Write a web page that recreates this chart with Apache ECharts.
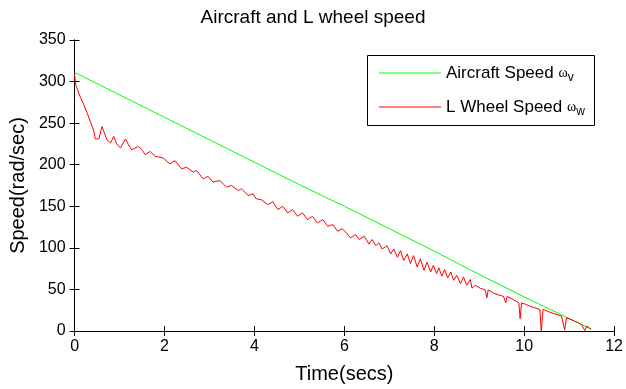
<!DOCTYPE html>
<html>
<head>
<meta charset="utf-8">
<script src="https://cdn.jsdelivr.net/npm/echarts@6/dist/echarts.min.js"></script>
<style>
  html, body { margin: 0; padding: 0; background: #fff; }
  #chart { width: 626px; height: 389px; }
</style>
</head>
<body>
<div id="chart"></div>
<script>
// Axis ticks
const xTicks = [0, 2, 4, 6, 8, 10, 12];
const yTicks = [0, 50, 100, 150, 200, 250, 300, 350];

// Aircraft speed [time (s), speed (rad/s)]
const aircraftSpeed = [
  [0, 311], [1, 284], [2, 257], [3, 230], [4, 203], [5, 176], [6, 150],
  [7, 123], [8, 96], [9, 68], [10, 41], [11, 15], [11.49, 2]
];

// Left wheel speed [time (s), speed (rad/s)]
const wheelSpeed = [
  [0, 309], [0.02, 297], [0.06, 291], [0.13, 281], [0.2, 273], [0.28, 262],
  [0.35, 252], [0.43, 240], [0.46, 231], [0.54, 231], [0.61, 246], [0.65, 244],
  [0.72, 230], [0.8, 226], [0.87, 234], [0.94, 225], [1.02, 220], [1.13, 231],
  [1.2, 224], [1.27, 218], [1.42, 222], [1.5, 218], [1.57, 212], [1.68, 216],
  [1.79, 210], [1.9, 209], [1.97, 208], [2.12, 201], [2.23, 205], [2.38, 195],
  [2.49, 197], [2.64, 191], [2.71, 193], [2.86, 183], [2.97, 186], [3.08, 179],
  [3.23, 181], [3.38, 173], [3.49, 175], [3.64, 169], [3.71, 171], [3.86, 163],
  [3.97, 165], [4.04, 159], [4.15, 158], [4.3, 152], [4.41, 155.5], [4.52, 146],
  [4.63, 150], [4.74, 142], [4.85, 146], [4.96, 138], [5.07, 142], [5.18, 134],
  [5.29, 138], [5.4, 130], [5.52, 134], [5.63, 126], [5.74, 128], [5.85, 120],
  [5.95, 123], [6.03, 119], [6.14, 112], [6.25, 116], [6.33, 110], [6.44, 114],
  [6.55, 104.5], [6.62, 110], [6.7, 102.5], [6.77, 106], [6.84, 98.6], [6.95, 102.5],
  [7.03, 92.7], [7.1, 98.6], [7.18, 88.7], [7.25, 96.6], [7.32, 84.8], [7.4, 92.7],
  [7.47, 81], [7.54, 90.7], [7.62, 77], [7.69, 86.8], [7.77, 73], [7.84, 82.8],
  [7.92, 71], [7.98, 79], [8.05, 69], [8.1, 76], [8.17, 66], [8.23, 74],
  [8.3, 64], [8.37, 71], [8.43, 61], [8.5, 67], [8.58, 57], [8.65, 65],
  [8.72, 55], [8.8, 62], [8.84, 51.5], [8.91, 55], [9.02, 51.5], [9.13, 49.5],
  [9.17, 40], [9.2, 49.5], [9.31, 45.6], [9.42, 43.6], [9.54, 41.6], [9.59, 34],
  [9.62, 41.6], [9.76, 37.7], [9.88, 34], [9.91, 15], [9.94, 33.8], [10.05, 31.8],
  [10.13, 29.8], [10.35, 25.9], [10.38, 0], [10.42, 25.9], [10.6, 22], [10.83, 18],
  [10.9, 1], [10.94, 16], [11.12, 12], [11.27, 8], [11.35, 0.5], [11.39, 6],
  [11.49, 2]
];

const FONT = '"Liberation Sans", Arial, sans-serif';

const chart = echarts.init(document.getElementById('chart'), null, { renderer: 'canvas' });

const axisLine = { show: true, lineStyle: { color: '#000', width: 1 } };
const inTick = { show: true, inside: true, length: 5, lineStyle: { color: '#000', width: 1 } };

chart.setOption({
  backgroundColor: '#fff',
  animation: false,
  title: {
    text: 'Aircraft and L wheel speed',
    left: 'center',
    top: 8,
    padding: 0,
    textStyle: { fontFamily: FONT, fontSize: 19, fontWeight: 'normal', color: '#000' }
  },
  grid: { left: 74, right: 10, top: 40, bottom: 52, containLabel: false },
  legend: {
    orient: 'vertical',
    left: 379,
    top: 62,
    padding: 0,
    itemWidth: 62,
    itemHeight: 1,
    itemGap: 12,
    icon: 'rect',
    formatter: name => name === 'Aircraft Speed'
      ? name + ' {w|ω}{s|v}'
      : name + ' {w|ω}{s|w}',
    textStyle: {
      fontFamily: FONT, fontSize: 17, color: '#000', lineHeight: 22,
      rich: {
        w: { fontFamily: '"Liberation Serif", serif', fontSize: 14, color: '#000' },
        s: { fontFamily: FONT, fontSize: 12, color: '#000', verticalAlign: 'bottom', lineHeight: 22 }
      }
    },
    data: ['Aircraft Speed', 'L Wheel Speed']
  },
  graphic: [{
    type: 'rect',
    shape: { x: 367.5, y: 55.5, width: 227, height: 70 },
    style: { fill: 'none', stroke: '#000', lineWidth: 1 },
    z: 100
  }],
  xAxis: [{
    type: 'value',
    min: xTicks[0],
    max: xTicks[xTicks.length - 1],
    interval: 2,
    position: 'bottom',
    name: 'Time(secs)',
    nameLocation: 'middle',
    nameGap: 33,
    nameTextStyle: { fontFamily: FONT, fontSize: 20, color: '#000' },
    axisLine, axisTick: inTick,
    axisLabel: { fontFamily: FONT, fontSize: 16, color: '#000', margin: 8 },
    splitLine: { show: false }
  }, {
    type: 'value',
    min: xTicks[0],
    max: xTicks[xTicks.length - 1],
    interval: 2,
    position: 'top',
    axisLine, axisTick: inTick,
    axisLabel: { show: false },
    splitLine: { show: false }
  }],
  yAxis: [{
    type: 'value',
    min: yTicks[0],
    max: yTicks[yTicks.length - 1],
    interval: 50,
    position: 'left',
    name: 'Speed(rad/sec)',
    nameLocation: 'middle',
    nameGap: 46,
    nameTextStyle: { fontFamily: FONT, fontSize: 20, color: '#000' },
    axisLine, axisTick: inTick,
    axisLabel: { fontFamily: FONT, fontSize: 16, color: '#000', margin: 9 },
    splitLine: { show: false }
  }, {
    type: 'value',
    min: yTicks[0],
    max: yTicks[yTicks.length - 1],
    interval: 50,
    position: 'right',
    axisLine, axisTick: inTick,
    axisLabel: { show: false },
    splitLine: { show: false }
  }],
  series: [{
    name: 'Aircraft Speed',
    type: 'line',
    data: aircraftSpeed,
    color: '#00ff00',
    showSymbol: false,
    lineStyle: { color: '#00ff00', width: 1 },
    z: 3
  }, {
    name: 'L Wheel Speed',
    type: 'line',
    data: wheelSpeed,
    color: '#ff0000',
    showSymbol: false,
    lineStyle: { color: '#ff0000', width: 1 },
    z: 4
  }]
});
</script>
</body>
</html>
